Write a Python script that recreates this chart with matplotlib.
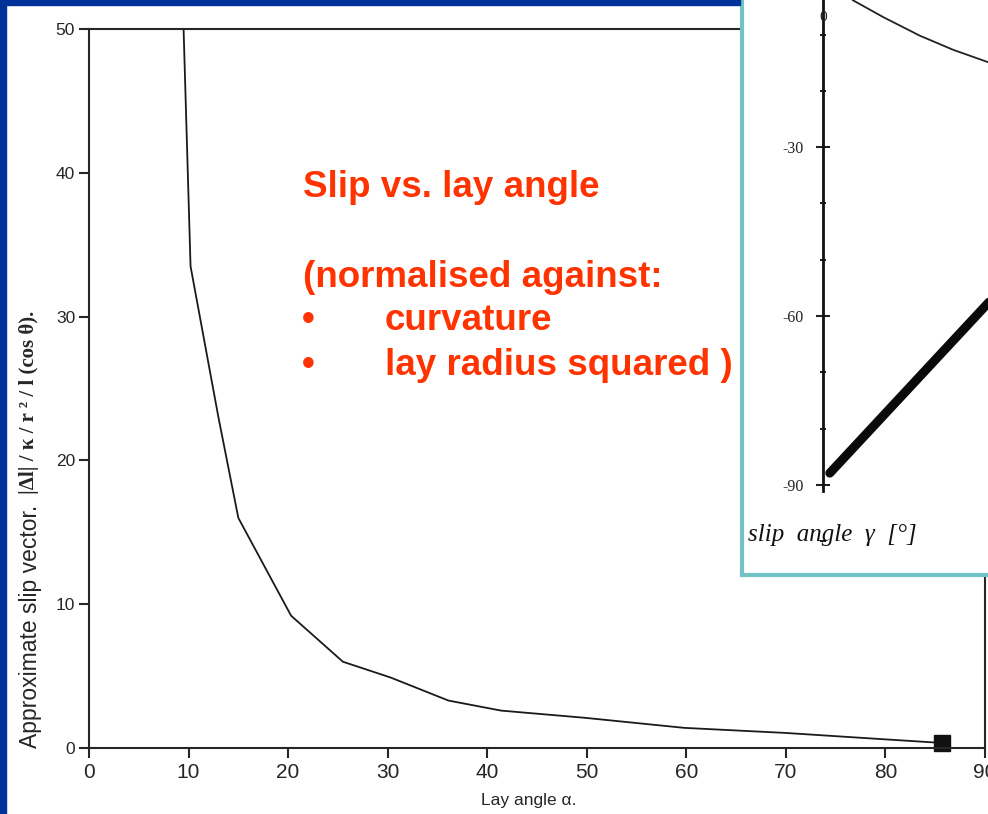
import matplotlib.pyplot as plt
from matplotlib.patches import Rectangle
from matplotlib.ticker import MultipleLocator

plt.rcParams['axes.unicode_minus'] = False

# main curve: approximate slip vector vs lay angle
lay_angle = [9.5, 10.2, 13.0, 15.0, 20.3, 25.5, 30.3, 36.1, 41.4, 49.8, 59.8, 69.9, 80.0, 85.7]
slip = [50.0, 33.5, 23.0, 16.0, 9.2, 6.0, 4.9, 3.3, 2.6, 2.1, 1.4, 1.05, 0.6, 0.35]
marker_x = [85.7]
marker_y = [0.35]

x_ticks = [0, 10, 20, 30, 40, 50, 60, 70, 80, 90]
y_ticks = [0, 10, 20, 30, 40, 50]

# inset: slip angle gamma (partly cut off in the original)
thick_x = [1.2, 32.0]
thick_y = [-87.9, -54.8]
thin_x = [5.3, 10.7, 17.2, 23.1, 29.3, 33.0]
thin_y = [-3.9, -6.9, -10.2, -12.7, -14.9, -16.5]
inset_major = [-90, -60, -30]
inset_labels = ['-90', '-60', '-30']

red = '#ff3300'
ink = '#262626'
W, H = 988, 814

fig = plt.figure(figsize=(W / 100, H / 100), dpi=100)
fig.patch.set_facecolor('white')

ax = fig.add_axes([89 / W, (H - 748) / H, 896 / W, 719 / H])
ax.plot(lay_angle, slip, color='#1a1a1a', lw=1.3)
ax.plot(marker_x, marker_y, 's', ms=11, color='#111111', clip_on=False)
ax.set_xlim(0, 90)
ax.set_ylim(0, 50)
ax.set_xticks(x_ticks)
ax.set_yticks(y_ticks)
for s in ax.spines.values():
    s.set_color(ink)
    s.set_linewidth(1.5)
ax.tick_params(axis='x', direction='out', length=7, width=1.5, color=ink,
               labelsize=15, pad=4, labelcolor=ink)
ax.tick_params(axis='y', direction='out', length=7, width=1.5, color=ink,
               labelsize=12.5, pad=3, labelcolor=ink)
for lab in ax.get_xticklabels() + ax.get_yticklabels():
    lab.set_family('Liberation Sans')

fig.text(529 / W, (H - 800) / H, 'Lay angle α.', ha='center', va='center',
         fontsize=12.5, color=ink, family='Liberation Sans')
fig.text(31 / W, (H - 748) / H, 'Approximate slip vector.', rotation=90,
         ha='center', va='bottom', fontsize=16.5, color=ink, family='Liberation Sans')
fig.text(29 / W, (H - 494) / H, '|Δl| / κ / r ² / l (cos θ).', rotation=90,
         ha='center', va='bottom', fontsize=15, weight='bold', color=ink,
         family='Liberation Serif')

# red annotation
fig.text(303 / W, (H - 197) / H, 'Slip vs. lay angle', color=red, fontsize=26.5,
         weight='bold', family='Liberation Sans', va='baseline')
fig.text(303 / W, (H - 287) / H, '(normalised against:', color=red, fontsize=26.5,
         weight='bold', family='Liberation Sans', va='baseline')
for base, txt in [(330, 'curvature'), (375, 'lay radius squared )')]:
    fig.text(302 / W, (H - base) / H, '•', color=red, fontsize=26.5,
             weight='bold', family='Liberation Sans', va='baseline')
    fig.text(385 / W, (H - base) / H, txt, color=red, fontsize=26.5,
             weight='bold', family='Liberation Sans', va='baseline')

# inset panel
pos = [742 / W, (H - 575) / H, 268 / W, 585 / H]
box = fig.add_axes(pos, zorder=3)
box.set_facecolor('white')
box.set_xticks([])
box.set_yticks([])
for side in ['left', 'bottom']:
    box.spines[side].set_color('#72c2c6')
    box.spines[side].set_linewidth(3)
for side in ['top', 'right']:
    box.spines[side].set_visible(False)

ins = fig.add_axes(pos, zorder=4)
ins.set_facecolor('none')
ins.set_xlim(-14.39, 33.2)
ins.set_ylim(-106.0, -2.08)
ins.plot(thick_x, thick_y, color='#0a0a0a', lw=6.5, solid_capstyle='round')
ins.plot(thin_x, thin_y, color='#222222', lw=1.3)
for side in ['top', 'right', 'bottom']:
    ins.spines[side].set_visible(False)
ins.spines['left'].set_position(('data', 0))
ins.spines['left'].set_bounds(-91, -2.08)
ins.spines['left'].set_linewidth(2)
ins.spines['left'].set_color('#111111')
ins.set_xticks([])
ins.set_yticks(inset_major)
ins.set_yticklabels(inset_labels)
ins.yaxis.set_minor_locator(MultipleLocator(10))
ins.tick_params(axis='y', which='major', direction='inout', length=10, width=1.5,
                labelsize=11.5, pad=9, colors='#222222')
ins.tick_params(axis='y', which='minor', direction='inout', length=5, width=1.5,
                colors='#222222')
for lab in ins.get_yticklabels():
    lab.set_family('Liberation Serif')
ins.text(0, -6.9, '0', ha='center', va='center', fontsize=11,
         family='Liberation Serif', color='#222222')
fig.text(748 / W, (H - 541) / H, 'slip  angle  γ  [°]', style='italic',
         fontsize=18, family='Liberation Serif', color='#111111', zorder=5)

# slide border
fig.patches.append(Rectangle((0, 0), 6 / W, 1, transform=fig.transFigure,
                             color='#003399', zorder=10))
fig.patches.append(Rectangle((0, 1 - 5 / H), 740 / W, 5 / H, transform=fig.transFigure,
                             color='#003399', zorder=10))

fig.savefig('out.png', dpi=100)
